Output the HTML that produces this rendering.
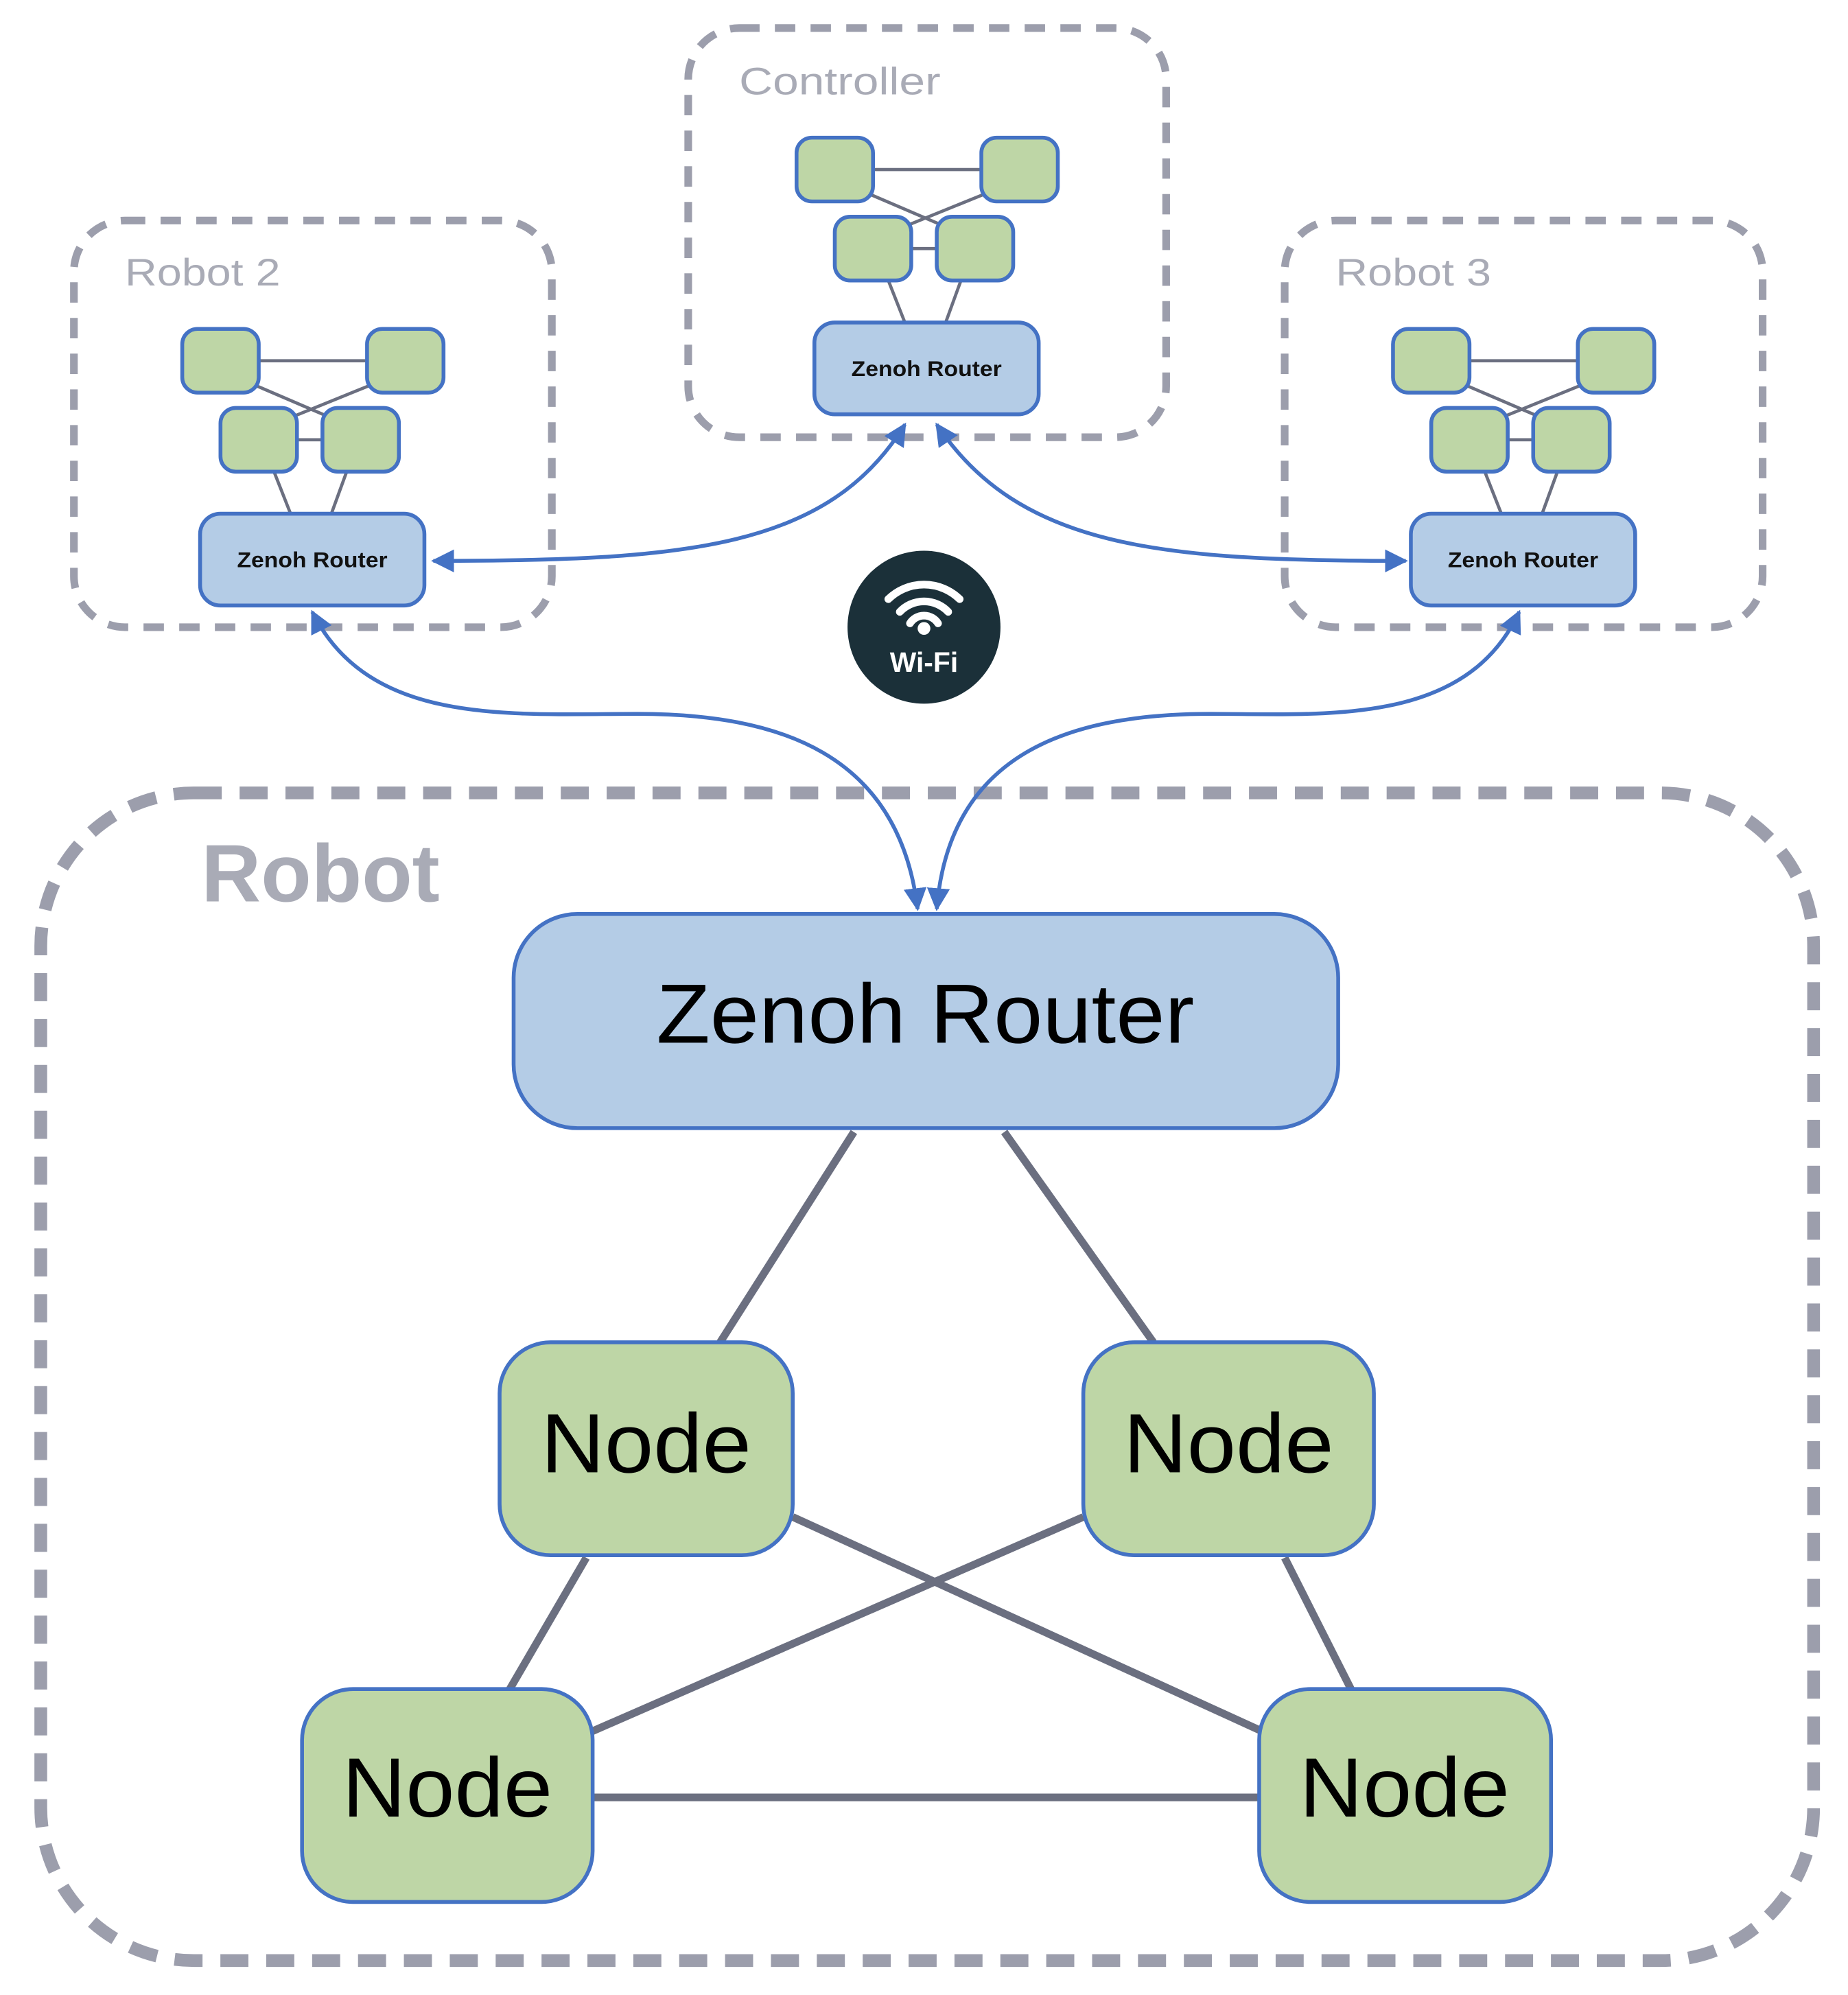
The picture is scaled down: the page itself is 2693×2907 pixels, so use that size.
<!DOCTYPE html>
<html><head><meta charset="utf-8"><style>html,body{margin:0;padding:0;background:#fff}svg{display:block}</style></head>
<body>
<svg width="2693" height="2907" viewBox="0 0 1450 1565" preserveAspectRatio="none" xmlns="http://www.w3.org/2000/svg" font-family="'Liberation Sans Narrow','Liberation Sans',sans-serif">
<defs>
<marker id="ah" viewBox="0 0 10 10" refX="9" refY="5" markerWidth="6" markerHeight="6" orient="auto-start-reverse" markerUnits="strokeWidth"><path d="M0,0 L10,5 L0,10 z" fill="#4472c4"/></marker>
<g id="mini">
 <g stroke="#6b6f80" stroke-width="2.5">
  <line x1="203" y1="283" x2="288" y2="283"/>
  <line x1="195" y1="300" x2="265" y2="330"/>
  <line x1="296" y1="300" x2="222" y2="330"/>
  <line x1="233" y1="345" x2="253" y2="345"/>
  <line x1="215" y1="370" x2="228" y2="403"/>
  <line x1="272" y1="370" x2="260" y2="403"/>
 </g>
 <g fill="#bed6a6" stroke="#4472c4" stroke-width="3">
  <rect x="143" y="258" width="60" height="50" rx="12"/>
  <rect x="288" y="258" width="60" height="50" rx="12"/>
  <rect x="173" y="320" width="60" height="50" rx="12"/>
  <rect x="253" y="320" width="60" height="50" rx="12"/>
 </g>
 <rect x="157" y="403" width="176" height="72" rx="16" fill="#b4cce6" stroke="#4472c4" stroke-width="3"/>
 <text x="245" y="445" font-size="17" font-weight="bold" text-anchor="middle" fill="#111" textLength="118" lengthAdjust="spacingAndGlyphs">Zenoh Router</text>
</g>
</defs>

<!-- dashed containers -->
<g fill="none" stroke="#9c9eac" stroke-width="6" stroke-dasharray="16 12">
 <rect x="540" y="22" width="375" height="321" rx="40"/>
 <rect x="58" y="173" width="375" height="319" rx="40"/>
 <rect x="1008" y="173" width="375" height="319" rx="40"/>
</g>
<rect x="32" y="622" width="1391" height="916" rx="120" fill="none" stroke="#9c9eac" stroke-width="10" stroke-dasharray="22 14"/>

<g fill="#a9abb6" font-family="'Liberation Sans',sans-serif">
 <text x="580" y="74" font-size="30" textLength="158" lengthAdjust="spacingAndGlyphs">Controller</text>
 <text x="98" y="224" font-size="30" textLength="122" lengthAdjust="spacingAndGlyphs">Robot 2</text>
 <text x="1048" y="224" font-size="30" textLength="122" lengthAdjust="spacingAndGlyphs">Robot 3</text>
 <text x="158" y="707" font-size="64" font-weight="bold" textLength="187" lengthAdjust="spacingAndGlyphs">Robot</text>
</g>

<use href="#mini"/>
<use href="#mini" transform="translate(950,0)"/>
<use href="#mini" transform="translate(482,-150)"/>

<!-- wifi -->
<circle cx="725" cy="492" r="60" fill="#1b3039"/>
<g fill="none" stroke="#fff" stroke-width="6" stroke-linecap="round">
 <path d="M697,470 A40,40 0 0 1 753,470"/>
 <path d="M706,480 A26,26 0 0 1 744,480"/>
 <path d="M714,489 A13,13 0 0 1 736,489"/>
</g>
<circle cx="725" cy="493" r="5" fill="#fff"/>
<text x="725" y="527" font-size="22" font-weight="bold" fill="#fff" text-anchor="middle" font-family="'Liberation Sans',sans-serif">Wi-Fi</text>

<!-- arrows -->
<g fill="none" stroke="#4472c4" stroke-width="3" marker-start="url(#ah)" marker-end="url(#ah)">
 <path d="M710,333 C650,430 540,440 340,440"/>
 <path d="M735,333 C800,430 910,440 1103,440"/>
 <path d="M245,480 C290,570 400,560 500,560 C610,560 705,590 720,713"/>
 <path d="M1192,480 C1150,570 1040,560 950,560 C840,560 745,590 735,713"/>
</g>

<!-- main diagram lines -->
<g stroke="#6b6f80" stroke-width="6">
 <line x1="670" y1="888" x2="565" y2="1053"/>
 <line x1="788" y1="888" x2="905" y2="1053"/>
 <line x1="460" y1="1222" x2="400" y2="1325"/>
 <line x1="1008" y1="1222" x2="1060" y2="1325"/>
 <line x1="622" y1="1190" x2="990" y2="1358"/>
 <line x1="850" y1="1190" x2="465" y2="1358"/>
 <line x1="465" y1="1410" x2="988" y2="1410"/>
</g>

<rect x="403" y="717" width="647" height="168" rx="50" fill="#b4cce6" stroke="#4472c4" stroke-width="3"/>
<text x="726" y="818" font-size="66" text-anchor="middle" fill="#000" textLength="422" lengthAdjust="spacingAndGlyphs">Zenoh Router</text>

<g fill="#bed6a6" stroke="#4472c4" stroke-width="3">
 <rect x="392" y="1053" width="230" height="167" rx="40"/>
 <rect x="850" y="1053" width="228" height="167" rx="40"/>
 <rect x="237" y="1325" width="228" height="167" rx="40"/>
 <rect x="988" y="1325" width="229" height="167" rx="40"/>
</g>
<g font-size="66" text-anchor="middle" fill="#000">
 <text x="507" y="1155" textLength="165" lengthAdjust="spacingAndGlyphs">Node</text>
 <text x="964" y="1155" textLength="165" lengthAdjust="spacingAndGlyphs">Node</text>
 <text x="351" y="1425" textLength="165" lengthAdjust="spacingAndGlyphs">Node</text>
 <text x="1102" y="1425" textLength="165" lengthAdjust="spacingAndGlyphs">Node</text>
</g>
</svg>
</body></html>
